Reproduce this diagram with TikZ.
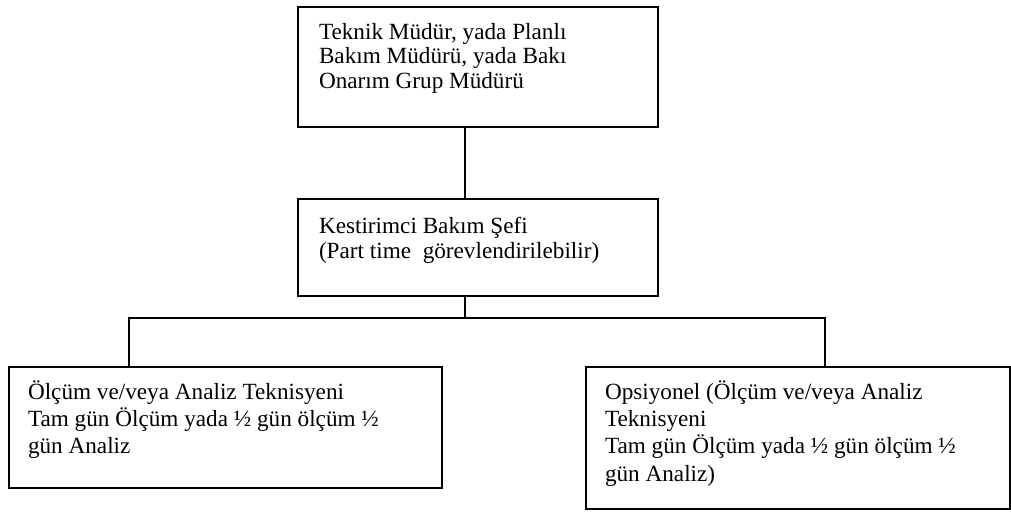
\documentclass[tikz,border=0pt]{standalone}
\usepackage{fontspec}
\setmainfont{Liberation Serif}
\usepackage{tikz}

% box text: width, height, first baseline, lines
\newcommand{\orgtext}[4]{\parbox[c][#2][t]{#1}{\raggedright\rule{0pt}{#3}#4}}

\tikzset{
  orgbox/.style={draw, line width=1.5pt, anchor=north west, inner ysep=0pt},
  topfont/.style={font=\fontsize{17.4}{18.4}\selectfont, inner xsep=15.75pt},
  lowfont/.style={font=\fontsize{17.4}{20.6}\selectfont, inner xsep=14.25pt},
  link/.style={line width=1.5pt},
}

\begin{document}
\begin{tikzpicture}[x=0.75pt,y=0.75pt,yscale=-1,xscale=1]
        \useasboundingbox (0,0) rectangle (1011,514);

        % Box: Teknik Mudur
        \draw (297,6) node [orgbox][topfont] (chief) {\orgtext{238.5pt}{90pt}{24pt}{Teknik Müdür, yada Planlı\\ Bakım Müdürü, yada Bakı\\ Onarım Grup Müdürü}};
        % Box: Kestirimci Bakim Sefi
        \draw (297,198) node [orgbox][topfont,font=\fontsize{17.4}{18.75}\selectfont] (lead) {\orgtext{238.5pt}{72.75pt}{25.5pt}{Kestirimci Bakım Şefi\\ (Part time~ görevlendirilebilir)}};
        % Box: Teknisyen
        \draw (8,366) node [orgbox][lowfont] (tech) {\orgtext{296.25pt}{90.75pt}{24pt}{Ölçüm ve/veya Analiz Teknisyeni\\ Tam gün Ölçüm yada ½ gün ölçüm ½\\ gün Analiz}};
        % Box: Opsiyonel
        \draw (585,366) node [orgbox][lowfont] (optional) {\orgtext{289.5pt}{106.5pt}{24pt}{Opsiyonel (Ölçüm ve/veya Analiz\\ Teknisyeni\\ Tam gün Ölçüm yada ½ gün ölçüm ½\\ gün Analiz)}};

        % Connectors
        \coordinate (trunk) at (465,160);
        \coordinate (busL) at (129,318);
        \coordinate (busR) at (825,318);
        \draw [link] (chief.south -| trunk) -- (lead.north -| trunk);
        \draw [link] (lead.south -| trunk) -- (trunk |- busL);
        \draw [link] (tech.north -| busL) -- (busL) -- (busR) -- (optional.north -| busR);

\end{tikzpicture}
\end{document}
